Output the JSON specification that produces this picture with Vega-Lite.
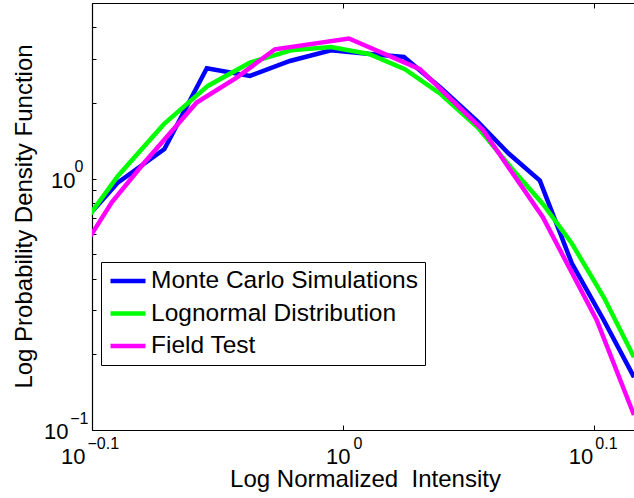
{
  "$schema": "https://vega.github.io/schema/vega-lite/v6.json",
  "width": 542,
  "height": 427,
  "autosize": {"type": "none"},
  "padding": {"left": 92, "top": 3, "right": 0, "bottom": 68},
  "background": "white",
  "config": {
    "view": {"stroke": null},
    "font": "Liberation Sans",
    "axis": {
      "grid": false,
      "domainColor": "black",
      "domainWidth": 1.2,
      "tickColor": "black",
      "tickWidth": 1,
      "labelColor": "black",
      "titleColor": "black",
      "labelFont": "Liberation Sans",
      "titleFont": "Liberation Sans",
      "titleFontWeight": "normal",
      "labelFlush": false,
      "labelOverlap": false,
      "labelBound": false
    }
  },
  "data": {
    "values": [
      {"series": "Monte Carlo Simulations", "x": 0.7782, "y": 0.5886},
      {"series": "Monte Carlo Simulations", "x": 0.8136, "y": 0.9668},
      {"series": "Monte Carlo Simulations", "x": 0.8489, "y": 1.3119},
      {"series": "Monte Carlo Simulations", "x": 0.8826, "y": 2.750},
      {"series": "Monte Carlo Simulations", "x": 0.9182, "y": 2.563},
      {"series": "Monte Carlo Simulations", "x": 0.9525, "y": 2.940},
      {"series": "Monte Carlo Simulations", "x": 0.9891, "y": 3.242},
      {"series": "Monte Carlo Simulations", "x": 1.0251, "y": 3.133},
      {"series": "Monte Carlo Simulations", "x": 1.0576, "y": 3.049},
      {"series": "Monte Carlo Simulations", "x": 1.0941, "y": 2.297},
      {"series": "Monte Carlo Simulations", "x": 1.1308, "y": 1.699},
      {"series": "Monte Carlo Simulations", "x": 1.1646, "y": 1.256},
      {"series": "Monte Carlo Simulations", "x": 1.1981, "y": 0.9819},
      {"series": "Monte Carlo Simulations", "x": 1.2338, "y": 0.4600},
      {"series": "Monte Carlo Simulations", "x": 1.2705, "y": 0.2733},
      {"series": "Monte Carlo Simulations", "x": 1.3062, "y": 0.1623},
      {"series": "Lognormal Distribution", "x": 0.7782, "y": 0.5572},
      {"series": "Lognormal Distribution", "x": 0.8136, "y": 1.028},
      {"series": "Lognormal Distribution", "x": 0.8485, "y": 1.648},
      {"series": "Lognormal Distribution", "x": 0.8834, "y": 2.339},
      {"series": "Lognormal Distribution", "x": 0.9182, "y": 2.894},
      {"series": "Lognormal Distribution", "x": 0.9534, "y": 3.242},
      {"series": "Lognormal Distribution", "x": 0.9891, "y": 3.341},
      {"series": "Lognormal Distribution", "x": 1.0241, "y": 3.133},
      {"series": "Lognormal Distribution", "x": 1.0585, "y": 2.725},
      {"series": "Lognormal Distribution", "x": 1.0941, "y": 2.168},
      {"series": "Lognormal Distribution", "x": 1.1318, "y": 1.598},
      {"series": "Lognormal Distribution", "x": 1.1678, "y": 1.096},
      {"series": "Lognormal Distribution", "x": 1.2014, "y": 0.7936},
      {"series": "Lognormal Distribution", "x": 1.2338, "y": 0.5522},
      {"series": "Lognormal Distribution", "x": 1.2705, "y": 0.3371},
      {"series": "Lognormal Distribution", "x": 1.3062, "y": 0.1949},
      {"series": "Field Test", "x": 0.7857, "y": 0.5085},
      {"series": "Field Test", "x": 0.8089, "y": 0.8054},
      {"series": "Field Test", "x": 0.8325, "y": 1.1437},
      {"series": "Field Test", "x": 0.8744, "y": 2.008},
      {"series": "Field Test", "x": 0.9071, "y": 2.523},
      {"series": "Field Test", "x": 0.9395, "y": 3.271},
      {"series": "Field Test", "x": 1.0055, "y": 3.610},
      {"series": "Field Test", "x": 1.0732, "y": 2.725},
      {"series": "Field Test", "x": 1.1369, "y": 1.565},
      {"series": "Field Test", "x": 1.2014, "y": 0.7023},
      {"series": "Field Test", "x": 1.2623, "y": 0.2733},
      {"series": "Field Test", "x": 1.3062, "y": 0.1147}
    ]
  },
  "layer": [
    {
      "mark": {"type": "line", "strokeWidth": 4.5, "clip": true, "strokeJoin": "miter"},
      "encoding": {
        "x": {
          "field": "x", "type": "quantitative",
          "scale": {"type": "log", "domain": [0.7943282347, 1.3062], "nice": false, "zero": false},
          "axis": {
            "orient": "bottom",
            "values": [0.7943282347, 1, 1.258925412],
            "labelExpr": "'10'",
            "labelFontSize": 22,
            "labelAlign": "right",
            "labelBaseline": "alphabetic",
            "labelPadding": 38,
            "labelOffset": {"condition": [{"test": "datum.value < 0.9", "value": -7}, {"test": "datum.value < 1.1", "value": 7}], "value": -1},
            "tickSize": -5,
            "title": "Log Normalized\u00a0 Intensity",
            "titleFontSize": 24,
            "titleBaseline": "alphabetic",
            "titleX": 273,
            "titleY": 56
          }
        },
        "y": {
          "field": "y", "type": "quantitative",
          "scale": {"type": "log", "domain": [0.1, 5], "nice": false},
          "axis": {
            "orient": "left",
            "values": [0.1, 0.2, 0.3, 0.4, 0.5, 0.6, 0.7, 0.8, 0.9, 1, 2, 3, 4, 5],
            "labelExpr": "datum.value == 1 || datum.value == 0.1 ? '10' : ''",
            "labelFontSize": 22,
            "labelAlign": "right",
            "labelBaseline": "alphabetic",
            "labelOffset": 8.5,
            "labelPadding": {"condition": {"test": "datum.value == 1", "value": 21}, "value": 28},
            "tickSize": -4,
            "title": "Log Probability Density Function",
            "titleFontSize": 24,
            "titleBaseline": "alphabetic",
            "titleAngle": -90,
            "titleX": -61,
            "titleY": 213
          }
        },
        "color": {
          "field": "series", "type": "nominal",
          "scale": {
            "domain": ["Monte Carlo Simulations", "Lognormal Distribution", "Field Test"],
            "range": ["#0000ff", "#00ff00", "#ff00ff"]
          },
          "legend": {
            "orient": "none",
            "legendX": 9,
            "legendY": 259,
            "title": null,
            "strokeColor": "black",
            "fillColor": "white",
            "padding": 7,
            "symbolType": "stroke",
            "symbolStrokeWidth": 4.5,
            "symbolSize": 1225,
            "clipHeight": 24,
            "labelFontSize": 24.5,
            "labelFont": "Liberation Sans",
            "labelColor": "black",
            "labelOffset": 3,
            "rowPadding": 7.5,
            "labelLimit": 400
          }
        }
      }
    },
    {
      "mark": {"type": "point", "opacity": 0},
      "encoding": {
        "x": {
          "field": "x", "type": "quantitative",
          "axis": {
            "orient": "top",
            "values": [0.7943282347, 1, 1.258925412],
            "labels": false,
            "tickSize": -5,
            "title": null
          }
        },
        "y": {"field": "y", "type": "quantitative", "axis": null}
      }
    },
    {
      "mark": {"type": "point", "opacity": 0},
      "encoding": {
        "x": {
          "field": "x", "type": "quantitative",
          "axis": {
            "orient": "bottom",
            "values": [0.7943282347, 1, 1.258925412],
            "labelExpr": "datum.value < 0.9 ? '\u22120.1' : (datum.value < 1.1 ? '0' : '0.1')",
            "labelFontSize": 16,
            "labelAlign": "left",
            "labelBaseline": "alphabetic",
            "labelPadding": 18,
            "labelOffset": {"condition": [{"test": "datum.value < 0.9", "value": -5}, {"test": "datum.value < 1.1", "value": 10}], "value": 1},
            "ticks": false,
            "domain": false,
            "title": null
          }
        },
        "y": {
          "field": "y", "type": "quantitative",
          "axis": {
            "orient": "left",
            "values": [0.1, 1],
            "labelExpr": "datum.value == 1 ? '0' : '\u22121'",
            "labelFontSize": 16,
            "labelAlign": "right",
            "labelBaseline": "alphabetic",
            "labelOffset": -7,
            "labelPadding": {"condition": {"test": "datum.value == 1", "value": 9}, "value": 4},
            "ticks": false,
            "domain": false,
            "title": null
          }
        }
      }
    }
  ],
  "resolve": {"axis": {"x": "independent", "y": "independent"}}
}
